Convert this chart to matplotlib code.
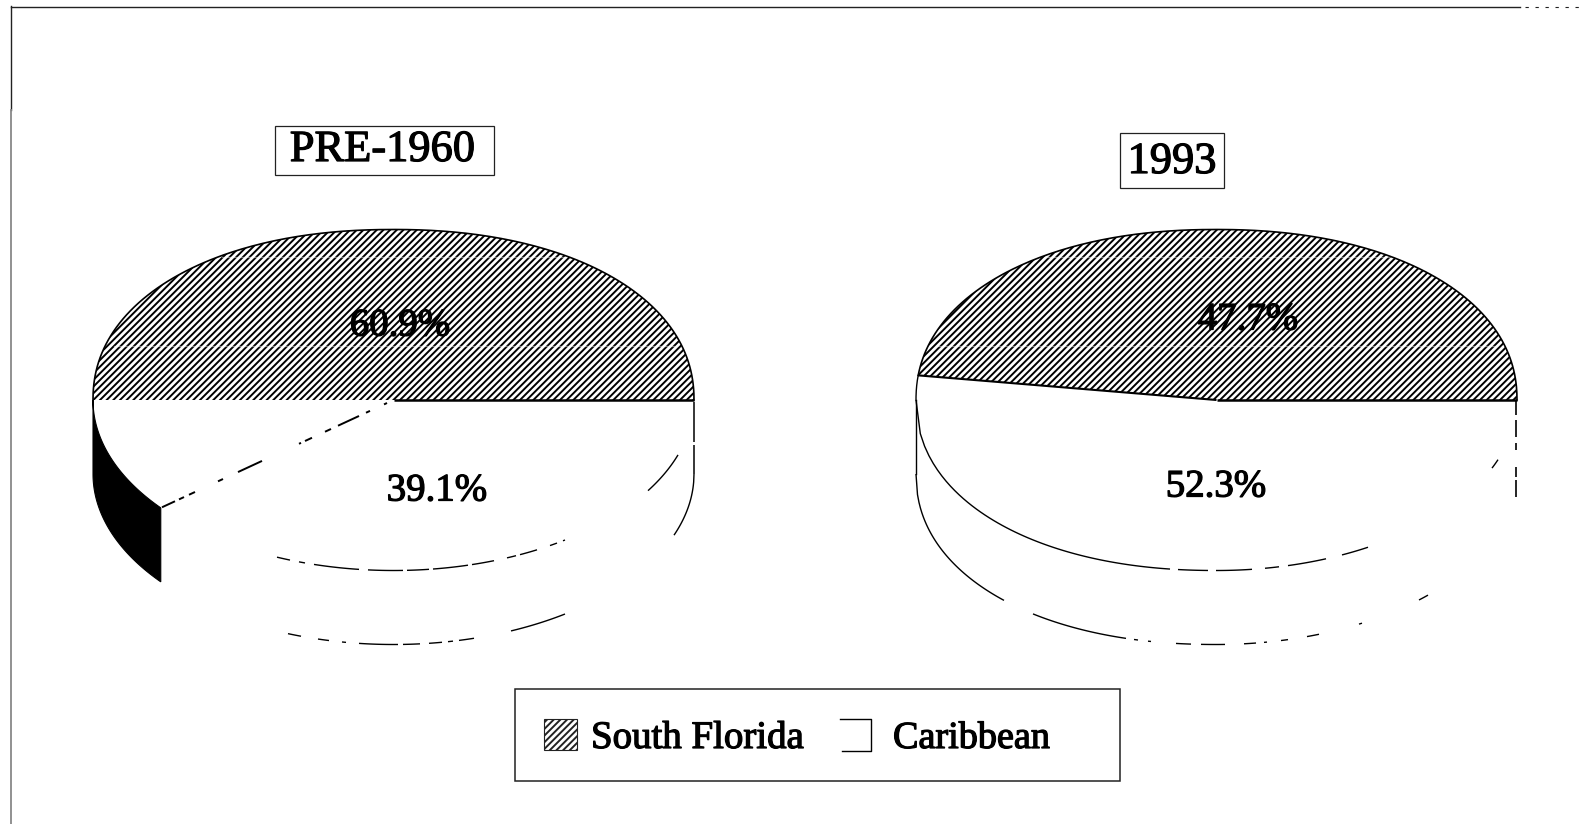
import numpy as np
import matplotlib
matplotlib.use("Agg")
import matplotlib.pyplot as plt
import matplotlib.patheffects as pe
from matplotlib.patches import Polygon, Rectangle

plt.rcParams['font.family'] = ['Liberation Serif', 'DejaVu Serif']
plt.rcParams['hatch.linewidth'] = 1.4
plt.rcParams['hatch.color'] = 'black'

# ---- data ----
categories = ["South Florida", "Caribbean"]
titles = ["PRE-1960", "1993"]
south_florida = [60.9, 47.7]
caribbean = [39.1, 52.3]

# ---- geometry of the two pies, in image pixels ----
CX = [393.5, 1216.5]
CY, RX, RY, DEPTH = 400.0, 300.5, 170.5, 74.0
TITLE_BOX = [(275, 126, 219, 49), (1120, 133, 104, 55)]
TITLE_Y = [150.0, 162.0]
LABEL_POS = [((400, 326), (437, 491)), ((1248, 320), (1216, 487))]
HATCH = '/' * 5

# Parts of the lines that survive in the scan (x ranges in px)
FRONT_TOP = [
    [(277, 290), (299, 305), (314, 359), (368, 403), (407, 429), (433, 468), (472, 494),
     (507, 516), (520, 537), (550, 557), (563, 565), (648, 678)],
    [(916, 1170), (1178, 1208), (1216, 1252), (1265, 1279), (1288, 1326), (1342, 1368), (1492, 1498)],
]
FRONT_BOTTOM = [
    [(288, 301), (318, 329), (342, 346), (359, 398), (403, 420), (429, 442), (448, 453),
     (459, 474), (511, 565), (674, 694)],
    [(916, 1004), (1033, 1126), (1134, 1138), (1148, 1151), (1176, 1191), (1201, 1225),
     (1244, 1256), (1264, 1267), (1281, 1288), (1307, 1319), (1359, 1362), (1419, 1428)],
]
RADIAL_DASHES = [(162, 175), (179, 184), (189, 195), (218, 223), (238, 262), (299, 301),
                 (305, 312), (325, 331), (338, 359), (366, 370), (384, 387)]
EDGE_DASHES = [(400, 415), (420, 437), (443, 450), (467, 477), (480, 497)]
LEFT_EDGE = [(402, 442), (445, 474)]

fig = plt.figure(figsize=(15.82, 8.24), dpi=100, facecolor='white')
ax = fig.add_axes([0, 0, 1, 1])
ax.set_xlim(0, 1582)
ax.set_ylim(824, 0)
ax.axis('off')

bold = [pe.withStroke(linewidth=0.9, foreground='black')]


def exponent(i, sin_t, cos_t):
    # the printed pies are slightly squarer than an ellipse on some sides
    if sin_t >= 0 or (i == 1 and cos_t < 0):
        return 2.15
    return 2.0


def arc(i, d0, d1, dy=0.0, num=240):
    pts = []
    for t in np.radians(np.linspace(d0, d1, num)):
        c, s = np.cos(t), np.sin(t)
        n = exponent(i, s, c)
        r = (abs(c) ** n + abs(s) ** n) ** (-1 / n)
        pts.append((CX[i] + RX * r * c, CY + dy - RY * r * s))
    return np.array(pts)


def front_arc(i, x0, x1, dy, lw=1.0):
    xs = np.linspace(x0, x1, 60)
    u = np.clip((xs - CX[i]) / RX, -1, 1)
    n = np.where((i == 1) & (u < 0), 2.15, 2.0)
    ax.plot(xs, CY + dy + RY * (1 - np.abs(u) ** n) ** (1 / n), color='black', lw=lw,
            solid_capstyle='butt', zorder=5)


for i in range(2):
    split = south_florida[i] * 3.6

    # top face: only the part of the South Florida wedge above the diameter keeps its hatching
    upper = arc(i, 0, min(split, 180))
    verts = np.vstack([[CX[i], CY], upper])
    ax.add_patch(Polygon(verts, closed=True, facecolor='white', edgecolor='black', hatch=HATCH, lw=0, zorder=2))
    ax.plot(upper[:, 0], upper[:, 1], color='black', lw=1.2, zorder=3)

    # thin pale scan bands across the hatching
    for yb, half in ((257, 172), (346, 280)):
        ax.plot([CX[i] - half, CX[i] + half], [yb, yb], color='white', lw=0.9, alpha=0.45, zorder=3)

    for x0, x1 in FRONT_TOP[i]:
        front_arc(i, x0, x1, 0)
    for x0, x1 in FRONT_BOTTOM[i]:
        front_arc(i, x0, x1, DEPTH)

    ax.plot([CX[i], CX[i] + RX], [CY, CY], color='black', lw=1.8, zorder=5, solid_capstyle='butt')

    # data labels
    for val, (lx, ly) in zip((south_florida[i], caribbean[i]), LABEL_POS[i]):
        ax.text(lx, ly, f"{val:.1f}%", ha='center', va='center', fontsize=28,
                color='black', zorder=6, path_effects=bold)

    # title box
    bx, by, bw, bh = TITLE_BOX[i]
    ax.add_patch(Rectangle((bx, by), bw, bh, fill=False, edgecolor='#222222', lw=0.9))
    ax.text(bx + bw / 2 - (2 if i == 0 else 0), TITLE_Y[i], titles[i], ha='center', va='center',
            fontsize=32, color='black', path_effects=bold)

# --- PRE-1960: black outer wall of the South Florida wedge that wraps the left side
split0 = south_florida[0] * 3.6
wall_top = arc(0, 180, split0)
wall_bottom = arc(0, split0, 180, dy=DEPTH)
ax.add_patch(Polygon(np.vstack([wall_top, wall_bottom]), closed=True, facecolor='black',
                     edgecolor='black', lw=0.8, zorder=4))
px, py = wall_top[-1]
for x0, x1 in RADIAL_DASHES:
    ys = [CY + (x - CX[0]) / (px - CX[0]) * (py - CY) for x in (x0, x1)]
    ax.plot([x0, x1], ys, color='black', lw=1.4, solid_capstyle='butt', zorder=5)
for y0, y1 in LEFT_EDGE:
    ax.plot([CX[0] + RX] * 2, [y0, y1], color='black', lw=1.1, zorder=5, solid_capstyle='butt')

# --- 1993
split1 = south_florida[1] * 3.6
edge = arc(1, split1, 180)
ax.plot(edge[:, 0], edge[:, 1], color='black', lw=1.0, zorder=5)
ax.plot([edge[0, 0], CX[1]], [edge[0, 1], CY], color='black', lw=1.5, zorder=5, solid_capstyle='butt')
ax.plot([916, 916], [CY, CY + DEPTH], color='black', lw=1.0, zorder=5)
for y0, y1 in EDGE_DASHES:
    ax.plot([1516, 1516], [y0, y1], color='black', lw=1.2, zorder=5, solid_capstyle='butt')

# --- legend box
ax.add_patch(Rectangle((515, 689), 605, 92, facecolor='white', edgecolor='#222222', lw=1.1, zorder=7))
ax.add_patch(Rectangle((544, 719), 33, 31, facecolor='white', edgecolor='#222222', hatch=HATCH, lw=0.8, zorder=8))
ax.plot([840, 871, 871, 842], [719, 719, 751, 751], color='black', lw=1.0, zorder=8)
ax.text(591, 748, categories[0], ha='left', va='baseline', fontsize=28, zorder=8, path_effects=bold)
ax.text(893, 748, categories[1], ha='left', va='baseline', fontsize=27.5, zorder=8, path_effects=bold)

# --- page frame
ax.plot([11, 11], [6, 110], color='#222222', lw=1.0)
ax.plot([11, 11], [110, 824], color='#888888', lw=1.3)
ax.plot([11, 1520], [7, 7], color='#222222', lw=1.0)
ax.plot([1525, 1582], [7, 7], color='#222222', lw=0.8, ls=(0, (3, 6)))

fig.savefig("out.png", dpi=100, facecolor='white')
